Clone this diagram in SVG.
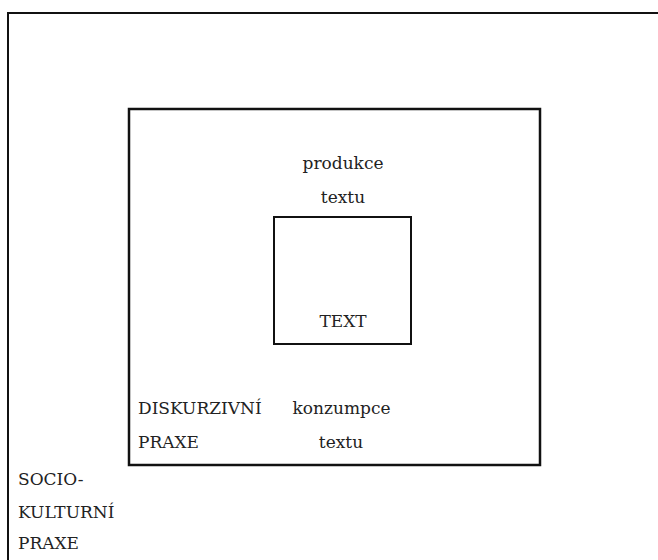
<svg xmlns="http://www.w3.org/2000/svg" width="658" height="560" viewBox="0 0 658 560">
<style>
.box{fill:none;stroke:#111;}
.t{font-family:"DejaVu Serif","Liberation Serif",serif;font-size:17px;fill:#222;}
.c{text-anchor:middle;}
</style>
<rect width="658" height="560" fill="#fff"/>
<g id="sociokulturni-praxe">
<rect class="box" x="8" y="13" width="700" height="600" stroke-width="2"/>
<text class="t" x="18" y="485">SOCIO-</text>
<text class="t" x="18" y="518">KULTURNÍ</text>
<text class="t" x="18" y="549">PRAXE</text>
</g>
<g id="diskurzivni-praxe">
<rect class="box" x="129" y="109" width="411" height="356" stroke-width="2.5"/>
<text class="t c" x="343" y="169">produkce</text>
<text class="t c" x="343" y="203">textu</text>
<text class="t" x="138" y="414">DISKURZIVNÍ</text>
<text class="t" x="138" y="448">PRAXE</text>
<text class="t c" x="341.5" y="414">konzumpce</text>
<text class="t c" x="341" y="448">textu</text>
</g>
<g id="text">
<rect class="box" x="274" y="217" width="137" height="127" stroke-width="2"/>
<text class="t c" x="343" y="327">TEXT</text>
</g>
<g id="connectors"></g>
</svg>
